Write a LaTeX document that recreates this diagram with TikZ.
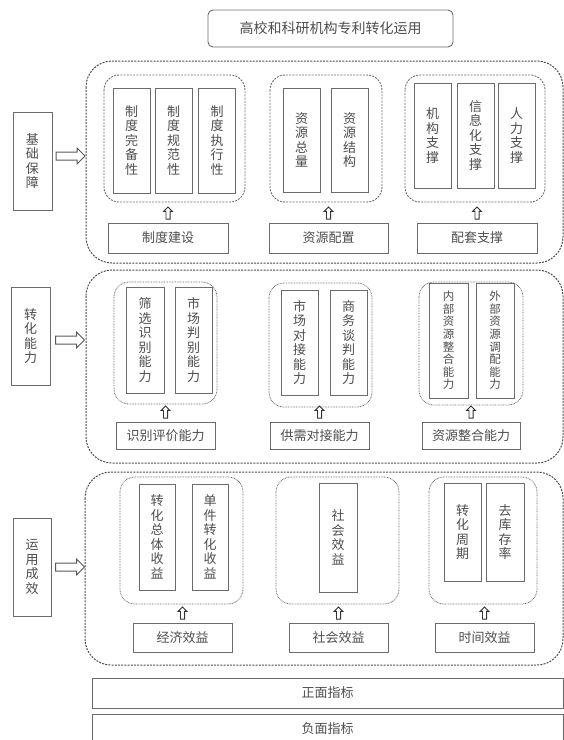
\documentclass[tikz,border=0pt]{standalone}
\usepackage{fontspec}
\newfontfamily\cjk{Noto Sans CJK SC}
\usetikzlibrary{positioning, shapes.arrows}
\definecolor{linegray}{HTML}{6B6B6B}
\definecolor{txtgray}{HTML}{4D4D4D}
\tikzset{
  box/.style={draw=linegray, line width=0.9pt, text=txtgray, font=\cjk\fontsize{13}{14.5}\selectfont, inner sep=0pt, align=center},
  vbox/.style={box, minimum width=37pt},
  smallvbox/.style={vbox, font=\cjk\fontsize{11.5}{12.6}\selectfont},
  lbl/.style={box, minimum width=99pt, minimum height=28pt},
  grpdash/.style={draw=linegray, line width=0.9pt, dash pattern=on 2pt off 1.2pt, rounded corners=15pt},
  grpdot/.style={draw=linegray, line width=0.8pt, dash pattern=on 0.8pt off 0.8pt, rounded corners=15pt},
  outer/.style={draw=black!70, line width=1pt, dash pattern=on 2pt off 1.2pt, rounded corners=26pt},
  rarr/.style={single arrow, draw=black!65, line width=1pt, inner sep=3.5pt, minimum height=29pt, single arrow head extend=4pt},
  uarr/.style={single arrow, draw=black!80, line width=0.9pt, inner sep=1.6pt, minimum height=12pt, single arrow head extend=2.2pt, shape border rotate=90},
}

\begin{document}
\begin{tikzpicture}[x=1pt, y=-1pt]
    \useasboundingbox (0,0) rectangle (564,740);

    \node[box, minimum width=245pt, minimum height=37pt, rounded corners=5pt, font=\cjk\fontsize{14}{16}\selectfont] (title) at (330.5,28.5) {高校和科研机构专利转化运用};

    \draw[outer] (86,61) rectangle (563,263);
    \draw[outer] (86,270) rectangle (563,463);
    \draw[outer] (85,472) rectangle (563,665);

    \node[box, minimum width=39pt, minimum height=98pt] (jichu) at (32.5,161) {基\\础\\保\\障};
    \node[box, minimum width=39pt, minimum height=98pt] (nengli) at (30.5,336) {转\\化\\能\\力};
    \node[box, minimum width=38pt, minimum height=98pt] (chengxiao) at (32,567) {运\\用\\成\\效};
    \node[rarr] (ar1) at (68.5,156) {};
    \node[rarr] (ar2) at (68,340) {};
    \node[rarr] (ar3) at (68,567) {};

    \draw[grpdash] (104,75) rectangle (245,202);
    \draw[grpdash] (270,75) rectangle (382,202);
    \draw[grpdash] (405,75) rectangle (545,202);
    \node[vbox, minimum height=105pt] (wanbei) at (131.5,140.5) {制\\度\\完\\备\\性};
    \node[vbox, minimum height=105pt] (guifan) at (173.5,140.5) {制\\度\\规\\范\\性};
    \node[vbox, minimum height=105pt] (zhixing) at (217,140.5) {制\\度\\执\\行\\性};
    \node[vbox, minimum height=104pt] (zongliang) at (301.5,140) {资\\源\\总\\量};
    \node[vbox, minimum height=104pt] (jiegou) at (349.5,140) {资\\源\\结\\构};
    \node[vbox, minimum height=105pt] (jigou) at (432.5,135.5) {机\\构\\支\\撑};
    \node[vbox, minimum height=105pt] (xinxi) at (475.5,135.5) {信\\息\\化\\支\\撑};
    \node[vbox, minimum height=105pt] (renli) at (516.5,135.5) {人\\力\\支\\撑};
    \node[lbl, minimum width=120pt, minimum height=30pt] (zhidu) at (168,238) {制度建设};
    \node[lbl, minimum width=119pt, minimum height=30pt] (peizhi) at (328.5,238) {资源配置};
    \node[lbl, minimum width=120pt, minimum height=30pt] (peitao) at (477,238) {配套支撑};
    \node[uarr, above=3pt of zhidu] (u11) {};
    \node[uarr, above=3pt of peizhi] (u12) {};
    \node[uarr, above=3pt of peitao] (u13) {};

    \draw[grpdot] (114,282) rectangle (217,404);
    \draw[grpdot] (269,283) rectangle (372,407);
    \draw[grpdot] (419,282) rectangle (523,405);
    \node[vbox, minimum width=38pt, minimum height=106pt] (shaixuan) at (145,340) {筛\\选\\识\\别\\能\\力};
    \node[vbox, minimum height=106pt] (panbie) at (193.5,340) {市\\场\\判\\别\\能\\力};
    \node[vbox, minimum height=105pt] (duijie) at (299.5,342.5) {市\\场\\对\\接\\能\\力};
    \node[vbox, minimum height=105pt] (tanpan) at (348.5,342.5) {商\\务\\谈\\判\\能\\力};
    \node[smallvbox, minimum width=39pt, minimum height=115pt] (neibu) at (448.5,340.5) {内\\部\\资\\源\\整\\合\\能\\力};
    \node[smallvbox, minimum width=38pt, minimum height=115pt] (waibu) at (495,340.5) {外\\部\\资\\源\\调\\配\\能\\力};
    \node[lbl, minimum height=27pt] (shibie) at (165.5,435.5) {识别评价能力};
    \node[lbl, minimum height=27pt] (gongxu) at (319.5,435.5) {供需对接能力};
    \node[lbl, minimum width=98pt, minimum height=27pt] (zhenghe) at (471,435.5) {资源整合能力};
    \node[uarr, above=3pt of shibie] (u21) {};
    \node[uarr, above=3pt of gongxu] (u22) {};
    \node[uarr, above=3pt of zhenghe] (u23) {};

    \draw[grpdot] (120,477) rectangle (243,604);
    \draw[grpdot] (276,477) rectangle (399,604);
    \draw[grpdot] (429,477) rectangle (537,604);
    \node[vbox, minimum width=36pt, minimum height=106pt] (zongti) at (157,537) {转\\化\\总\\体\\收\\益};
    \node[vbox, minimum width=36pt, minimum height=106pt] (danjian) at (210,537) {单\\件\\转\\化\\收\\益};
    \node[vbox, minimum width=38pt, minimum height=109pt] (shehui) at (338,537.5) {社\\会\\效\\益};
    \node[vbox, minimum height=98pt] (zhouqi) at (462.5,532) {转\\化\\周\\期};
    \node[vbox, minimum width=38pt, minimum height=98pt] (kucun) at (505,532) {去\\库\\存\\率};
    \node[lbl, minimum height=29pt] (jingji) at (182.5,637.5) {经济效益};
    \node[lbl, minimum height=29pt] (shehuixy) at (338.5,637.5) {社会效益};
    \node[lbl, minimum height=29pt] (shijian) at (484.5,637.5) {时间效益};
    \node[uarr, above=3pt of jingji] (u31) {};
    \node[uarr, above=3pt of shehuixy] (u32) {};
    \node[uarr, above=3pt of shijian] (u33) {};

    \node[box, minimum width=471pt, minimum height=30pt] (zhengmian) at (327.5,693) {正面指标};
    \node[box, minimum width=471pt, minimum height=30pt] (fumian) at (327.5,729) {负面指标};
\end{tikzpicture}
\end{document}
